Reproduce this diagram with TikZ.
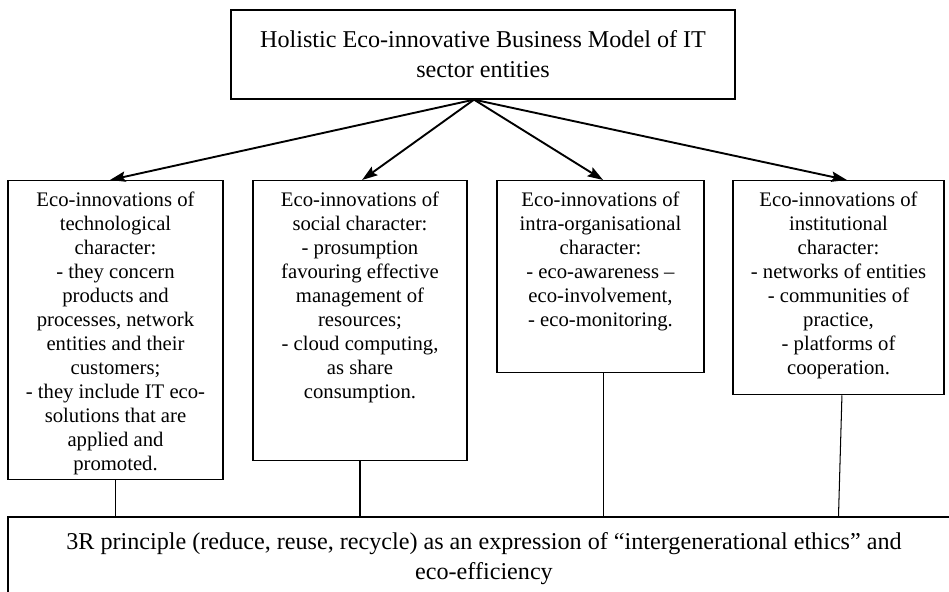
\documentclass[tikz,border=0pt]{standalone}
\usepackage{fontspec}
\setmainfont{Liberation Serif}
\usepackage{tikz}
\usetikzlibrary{arrows.meta, positioning}

\begin{document}
\begin{tikzpicture}[x=0.58pt, y=-0.58pt,
  frame/.style={draw, line width=0.75pt, anchor=north, inner sep=0pt},
  boxtext/.style={anchor=north, align=center, inner sep=0pt, font=\fontsize{12}{13.9}\selectfont},
  bigtext/.style={draw, line width=0.75pt, align=center, font=\fontsize{14}{17.4}\selectfont},
  feed/.style={line width=1.1pt, -{Stealth[length=9pt, width=6pt, inset=1.5pt]}},
  link/.style={line width=0.6pt}]
\useasboundingbox (0,0) rectangle (949,592);
\node[bigtext, minimum width=292.3pt, minimum height=51.6pt] (model) at (483,54.5) {Holistic Eco-innovative Business Model of IT\\ sector entities};
\node[frame, minimum width=124.7pt, minimum height=173.4pt] (tech) at (115.5,180) {};
\node[frame, minimum width=124.1pt, minimum height=162.4pt] (social) at (360,180) {};
\node[frame, minimum width=120.1pt, minimum height=111.4pt] (intra) at (600.5,180) {};
\node[frame, minimum width=122.4pt, minimum height=124.1pt] (inst) at (838.5,180) {};
\node[boxtext, below=7pt of tech.north] (techtxt) {Eco-innovations of\\ technological\\ character:\\ - they concern\\ products and\\ processes, network\\ entities and their\\ customers;\\ - they include IT eco-\\ solutions that are\\ applied and\\ promoted.};
\node[boxtext, below=7pt of social.north] (socialtxt) {Eco-innovations of\\ social character:\\ - prosumption\\ favouring effective\\ management of\\ resources;\\ - cloud computing,\\ as share\\ consumption.};
\node[boxtext, below=7pt of intra.north] (intratxt) {Eco-innovations of\\ intra-organisational\\ character:\\ - eco-awareness --\\ eco-involvement,\\ - eco-monitoring.};
\node[boxtext, below=7pt of inst.north] (insttxt) {Eco-innovations of\\ institutional\\ character:\\ - networks of entities\\ - communities of\\ practice,\\ - platforms of\\ cooperation.};
\node[bigtext, minimum width=552pt, minimum height=48.1pt] (rule) at (484,558.5) {3R principle (reduce, reuse, recycle) as an expression of ``intergenerational ethics'' and\\ eco-efficiency};
\coordinate (hub) at ([xshift=-5.2pt]model.south);
\draw[feed] (hub) -- ([xshift=-3.2pt]tech.north);
\draw[feed] (hub) -- ([xshift=1.2pt]social.north);
\draw[feed] (hub) -- ([xshift=1.5pt]intra.north);
\draw[feed] (hub) -- ([xshift=4.9pt]inst.north);
\draw[link] (tech.south) -- (tech.south |- rule.north);
\draw[link] (social.south) -- (social.south |- rule.north);
\draw[link] ([xshift=2pt]intra.south) -- ([xshift=2pt]intra.south |- rule.north);
\draw[link] ([xshift=2pt]inst.south) -- (inst.south |- rule.north);
\end{tikzpicture}
\end{document}
